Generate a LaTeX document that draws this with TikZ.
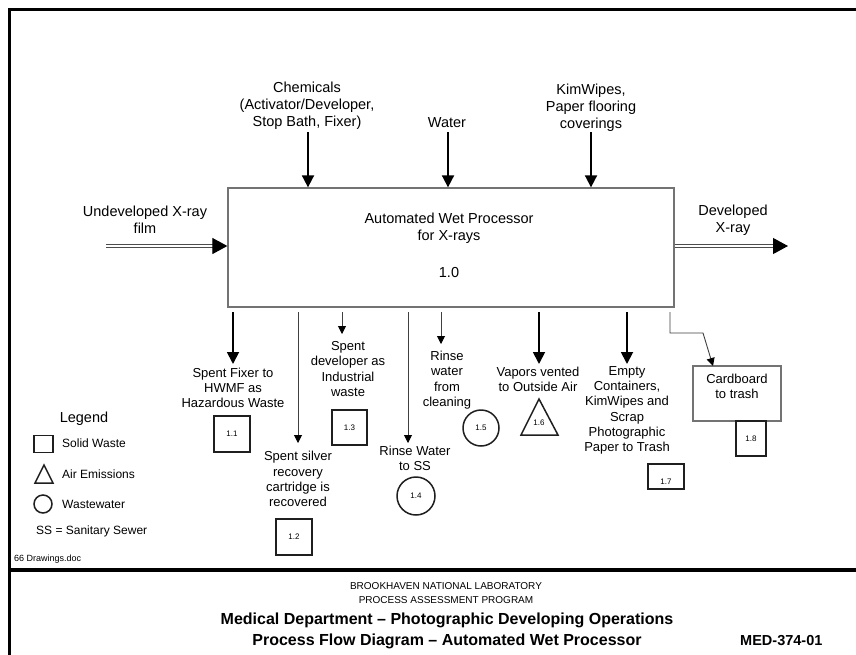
\documentclass[tikz,border=0pt]{standalone}
\usepackage{fontspec}
\setmainfont{Liberation Sans}
\usetikzlibrary{arrows.meta}
\begin{document}
\begin{tikzpicture}[x=1pt,y=-1pt,
  txt/.style={align=center,inner sep=0pt,font=\fontsize{13}{15.3}\selectfont},
  bigtxt/.style={align=center,inner sep=0pt,font=\fontsize{14.5}{17}\selectfont},
  legtxt/.style={anchor=west,inner sep=0pt,font=\fontsize{12}{14}\selectfont},
  numlab/.style={inner sep=0pt,font=\fontsize{8}{9}\selectfont},
  smalltxt/.style={inner sep=0pt,font=\fontsize{10}{14}\selectfont},
  titletxt/.style={inner sep=0pt,font=\fontsize{16}{20}\selectfont\bfseries},
  thk/.style={line width=1.8pt,-{Triangle[length=12pt,width=12pt]}},
  thn/.style={line width=0.9pt,draw=black!75,-{Triangle[length=8pt,width=8pt,color=black]}},
  dbl/.style={draw=black!70,double=white,double distance=1.1pt,line width=1.1pt,-{Triangle[length=15pt,width=16pt,color=black]}},
  sym/.style={draw=black!88,line width=1.5pt,inner sep=0pt},
  graybox/.style={draw=black!55,line width=1.3pt,inner sep=0pt},
  frame/.style={line width=3.5pt,line cap=rect}]
\useasboundingbox (0,0) rectangle (856,654);
\fill[white] (0,0) rectangle (856,654);

% frame
\draw[frame] (9.5,700) -- (9.5,9.5) -- (870,9.5);
\draw[frame] (9.5,570) -- (870,570);

% main process box
\node[graybox,minimum width=446pt,minimum height=119pt] (box) at (451,247.5) {};
\node[bigtxt] (boxtxt) at (449,228.5) {Automated Wet Processor\\for X-rays};
\node[bigtxt] (boxnum) at (449,273) {1.0};

% inputs
\node[bigtxt] (chem) at (307,105.5) {Chemicals\\(Activator/Developer,\\Stop Bath, Fixer)};
\node[bigtxt] (water) at (447,123) {Water};
\node[bigtxt] (kim) at (591,107.5) {KimWipes,\\Paper flooring\\coverings};
\coordinate (ci) at (308,132);
\coordinate (wi) at (448,132);
\coordinate (ki) at (591,132);
\draw[thk] (ci) -- (ci |- box.north);
\draw[thk] (wi) -- (wi |- box.north);
\draw[thk] (ki) -- (ki |- box.north);

\node[bigtxt] (undev) at (145,220) {Undeveloped X-ray\\film};
\coordinate (ui) at (106,246);
\draw[dbl] (ui) -- (ui -| box.west);
\node[bigtxt] (dev) at (733,220) {Developed\\X-ray};
\coordinate (dout) at (788,246);
\draw[dbl] (box.east |- dout) -- (dout);

% outputs
\node[txt] (o1) at (233,388) {Spent Fixer to\\HWMF as\\Hazardous Waste};
\coordinate (s1) at (233,312); \coordinate (t1) at (233,364);
\draw[thk] (s1) -- (t1);
\node[sym,minimum width=36pt,minimum height=36pt,numlab] (q11) at (232,434) {1.1};

\node[txt] (o2) at (298,479) {Spent silver\\recovery\\cartridge is\\recovered};
\coordinate (s2) at (298,312); \coordinate (t2) at (298,443);
\draw[thn] (s2) -- (t2);
\node[sym,minimum width=36pt,minimum height=36pt,numlab] (q12) at (294,537) {1.2};

\node[txt] (o3) at (348,369) {Spent\\developer as\\Industrial\\waste};
\coordinate (s3) at (342,312); \coordinate (t3) at (342,334);
\draw[thn] (s3) -- (t3);
\node[sym,minimum width=35pt,minimum height=35pt,numlab] (q13) at (349.5,427.5) {1.3};

\node[txt] (o4) at (415,458.5) {Rinse Water\\to SS};
\coordinate (s4) at (408,312); \coordinate (t4) at (408,443);
\draw[thn] (s4) -- (t4);
\node[sym,circle,minimum size=38pt,numlab] (c14) at (416,496) {1.4};

\node[txt] (o5) at (447,380) {Rinse\\water\\from\\cleaning};
\coordinate (s5) at (441,312); \coordinate (t5) at (441,344);
\draw[thn] (s5) -- (t5);
\node[sym,circle,minimum size=36pt,numlab] (c15) at (481,428) {1.5};

\node[txt] (o6) at (538,379.5) {Vapors vented\\to Outside Air};
\coordinate (s6) at (539,312); \coordinate (t6) at (539,364);
\draw[thk] (s6) -- (t6);
\draw[sym,line join=miter] (539,399) -- (558,435) -- (521,435) -- cycle;
\node[numlab] (l16) at (539,423) {1.6};

\node[txt] (o7) at (627,410.5) {Empty\\Containers,\\KimWipes and\\Scrap\\Photographic\\Paper to Trash};
\coordinate (s7) at (627,312); \coordinate (t7) at (627,364);
\draw[thk] (s7) -- (t7);
\node[sym,minimum width=36pt,minimum height=25pt] (q17) at (666,476.5) {};
\node[numlab] (l17) at (666,482) {1.7};

\node[graybox,minimum width=88pt,minimum height=55pt] (card) at (737,393.5) {};
\node[txt] (cardtxt) at (737,386.5) {Cardboard\\to trash};
\node[sym,minimum width=30pt,minimum height=35pt,numlab] (q18) at (751,438.5) {1.8};
\coordinate (s8) at (670,312); \coordinate (t8) at (713,366);
\draw[thn] (s8) -- (670,333) -- (703,333) -- (t8);

% legend
\node[inner sep=0pt,font=\fontsize{14.5}{17}\selectfont] (leg) at (84,419) {Legend};
\node[sym,minimum width=19pt,minimum height=17pt] (legsq) at (43.5,444) {};
\node[legtxt] (legsqt) at (62,443) {Solid Waste};
\draw[sym,line join=miter] (44,465) -- (53,483) -- (35,483) -- cycle;
\node[legtxt] (legtrt) at (62,474) {Air Emissions};
\node[sym,circle,minimum size=18pt] (legci) at (43,504) {};
\node[legtxt] (legcit) at (62,504) {Wastewater};
\node[legtxt] (legss) at (36,531) {SS = Sanitary Sewer};
\node[inner sep=0pt,anchor=west,font=\fontsize{9}{10}\selectfont] (doc) at (14,559) {66 Drawings.doc};

% footer
\node[smalltxt] (bnl) at (446,586) {BROOKHAVEN NATIONAL LABORATORY};
\node[smalltxt] (pap) at (446,600) {PROCESS ASSESSMENT PROGRAM};
\node[titletxt] (t1txt) at (447,620) {Medical Department -- Photographic Developing Operations};
\node[titletxt] (t2txt) at (447,641) {Process Flow Diagram -- Automated Wet Processor};
\node[inner sep=0pt,anchor=west,font=\fontsize{14.5}{16}\selectfont\bfseries] (med) at (740,641) {MED-374-01};
\end{tikzpicture}
\end{document}
